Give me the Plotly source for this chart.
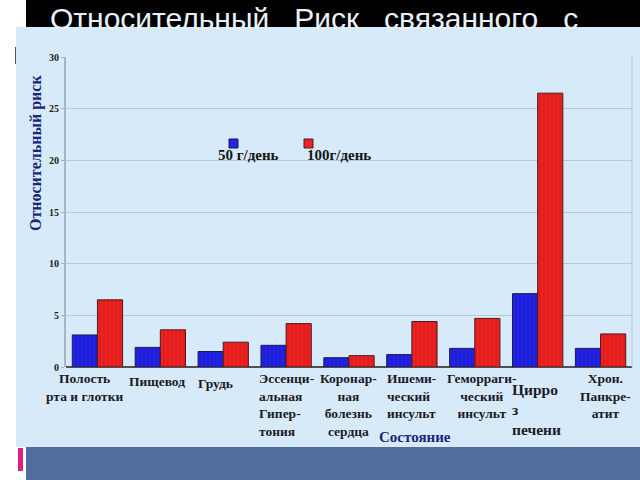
import plotly.graph_objects as go

# ---- data ----
categories = ["Полость рта и глотки", "Пищевод", "Грудь", "Эссенциальная Гипертония",
              "Коронарная болезнь сердца", "Ишемический инсульт", "Геморрагический инсульт",
              "Цирроз печени", "Хрон. Панкреатит"]
tick_labels = ["Полость<br>рта и глотки", "Пищевод", "Грудь",
               "Эссенци-<br>альная<br>Гипер-<br>тония",
               "Коронар-<br>ная<br>болезнь<br>сердца",
               "Ишеми-<br>ческий<br>инсульт",
               "Геморраги-<br>ческий<br>инсульт",
               "Цирро<br>з<br>печени",
               "Хрон.<br>Панкре-<br>атит"]
rr_50 = [3.1, 1.9, 1.5, 2.1, 0.9, 1.2, 1.8, 7.1, 1.8]
rr_100 = [6.5, 3.6, 2.4, 4.2, 1.1, 4.4, 4.7, 26.5, 3.2]
series_names = ["50 г/день", "100г/день"]
y_ticks = [0, 5, 10, 15, 20, 25, 30]

NB = "\u00a0"
title_text = (NB * 3).join(["Относительный", "Риск", "связанного", "с"])
y_title = "Относительный риск"
x_title = "Состояние"

# ---- layout geometry ----
W, H = 640, 480
ML, MR, MT, MB = 66, 8, 57, 113
PW, PH = W - ML - MR, H - MT - MB


def px(x):
    return (x - ML) / PW


def py(y):
    return (H - MB - y) / PH


SERIF = "Liberation Serif, Times New Roman, serif"
BLUE, RED = "#2323e6", "#ee2222"
PANEL = "#d6eaf9"

fig = go.Figure()
fig.add_trace(go.Bar(
    x=categories, y=rr_50, name=series_names[0],
    marker=dict(color=BLUE, line=dict(color="#1a1a50", width=1),
                pattern=dict(shape="|", fgcolor="#1010a0", size=4, solidity=0.25,
                             fillmode="overlay")),
))
fig.add_trace(go.Bar(
    x=categories, y=rr_100, name=series_names[1],
    marker=dict(color=RED, line=dict(color="#501a1a", width=1),
                pattern=dict(shape="|", fgcolor="#b01010", size=4, solidity=0.25,
                             fillmode="overlay")),
))

shapes = [
    dict(type="rect", xref="paper", yref="paper", x0=px(26), x1=px(640), y0=py(27), y1=py(0),
         fillcolor="#000000", line_width=0, layer="below"),
    dict(type="rect", xref="paper", yref="paper", x0=px(16), x1=px(640), y0=py(447), y1=py(27),
         fillcolor=PANEL, line_width=0, layer="below"),
    dict(type="rect", xref="paper", yref="paper", x0=px(26), x1=px(640), y0=py(480), y1=py(447),
         fillcolor="#516d9d", line_width=0, layer="below"),
    dict(type="rect", xref="paper", yref="paper", x0=px(18), x1=px(23), y0=py(471), y1=py(448),
         fillcolor="#e0207a", line_width=0, layer="below"),
    dict(type="line", xref="paper", yref="paper", x0=px(15.5), x1=px(15.5), y0=py(64), y1=py(47),
         line=dict(color="#555555", width=1)),
    dict(type="line", xref="paper", yref="paper", x0=1, x1=1, y0=0, y1=1,
         line=dict(color="#b9c8d6", width=1)),
    dict(type="rect", xref="paper", yref="paper", x0=px(229), x1=px(238), y0=py(148), y1=py(139),
         fillcolor=BLUE, line=dict(color="#1a1a50", width=1)),
    dict(type="rect", xref="paper", yref="paper", x0=px(304), x1=px(313), y0=py(148), y1=py(139),
         fillcolor=RED, line=dict(color="#501a1a", width=1)),
]

annotations = [
    dict(text=title_text, xref="paper", yref="paper", x=px(48), y=py(37), xanchor="left",
         yanchor="bottom", showarrow=False,
         font=dict(family="Liberation Sans, Arial, sans-serif", size=30, color="#e8f2fa")),
    dict(text="<b>" + y_title + "</b>", xref="paper", yref="paper", x=px(36), y=py(153),
         xanchor="center", yanchor="middle", textangle=-90,
         showarrow=False, font=dict(family=SERIF, size=16, color="#1c2478")),
    dict(text="<b>" + x_title + "</b>", xref="paper", yref="paper", x=px(415), y=py(437),
         xanchor="center", yanchor="middle", showarrow=False,
         font=dict(family=SERIF, size=15, color="#1c2478")),
    dict(text="<b>" + series_names[0] + "</b>", xref="paper", yref="paper", x=px(216), y=py(155),
         xanchor="left", yanchor="middle",
         showarrow=False, font=dict(family=SERIF, size=15, color="#151515")),
    dict(text="<b>" + series_names[1] + "</b>", xref="paper", yref="paper", x=px(305), y=py(155),
         xanchor="left", yanchor="middle",
         showarrow=False, font=dict(family=SERIF, size=15, color="#151515")),
]

label_style = [
    # (xshift, yshift, align, size)
    (-13, -2, "center", 13.5),
    (-3, -5, "center", 13.5),
    (-8, -7, "center", 13.5),
    (0, -2, "left", 13.5),
    (-1, -2, "center", 13.5),
    (0, -2, "left", 13.5),
    (7, -2, "center", 13.5),
    (-1, -12, "left", 15.5),
    (5, -2, "center", 13.5),
]
for cat, lab, (xs, ys, al, sz) in zip(categories, tick_labels, label_style):
    annotations.append(dict(
        text="<b>" + lab + "</b>", x=cat, y=0, xref="x", yref="y", yanchor="top",
        xanchor="center", xshift=xs, yshift=ys, align=al, showarrow=False,
        font=dict(family=SERIF, size=sz, color="#1a1a28")))

fig.update_layout(
    width=W, height=H,
    margin=dict(l=ML, r=MR, t=MT, b=MB),
    paper_bgcolor="#ffffff", plot_bgcolor="rgba(0,0,0,0)",
    barmode="group", bargap=0.2, bargroupgap=0.0,
    showlegend=False,
    shapes=shapes, annotations=annotations,
    xaxis=dict(range=[-0.5, len(categories) - 0.5], autorange=False,
               showticklabels=False, showgrid=False, zeroline=False,
               showline=False, ticks=""),
    yaxis=dict(range=[0, 30], tickvals=y_ticks, showgrid=True, gridcolor="#b9c8d6",
               gridwidth=1, zeroline=True, zerolinecolor="#505050", zerolinewidth=1.5,
               showline=True, linecolor="#a9b4c0", linewidth=2,
               ticks="outside", ticklen=3, tickcolor="#a9b4c0",
               tickfont=dict(family=SERIF, size=10, color="#222222", weight="bold")),
)

fig.write_html("out.html")
